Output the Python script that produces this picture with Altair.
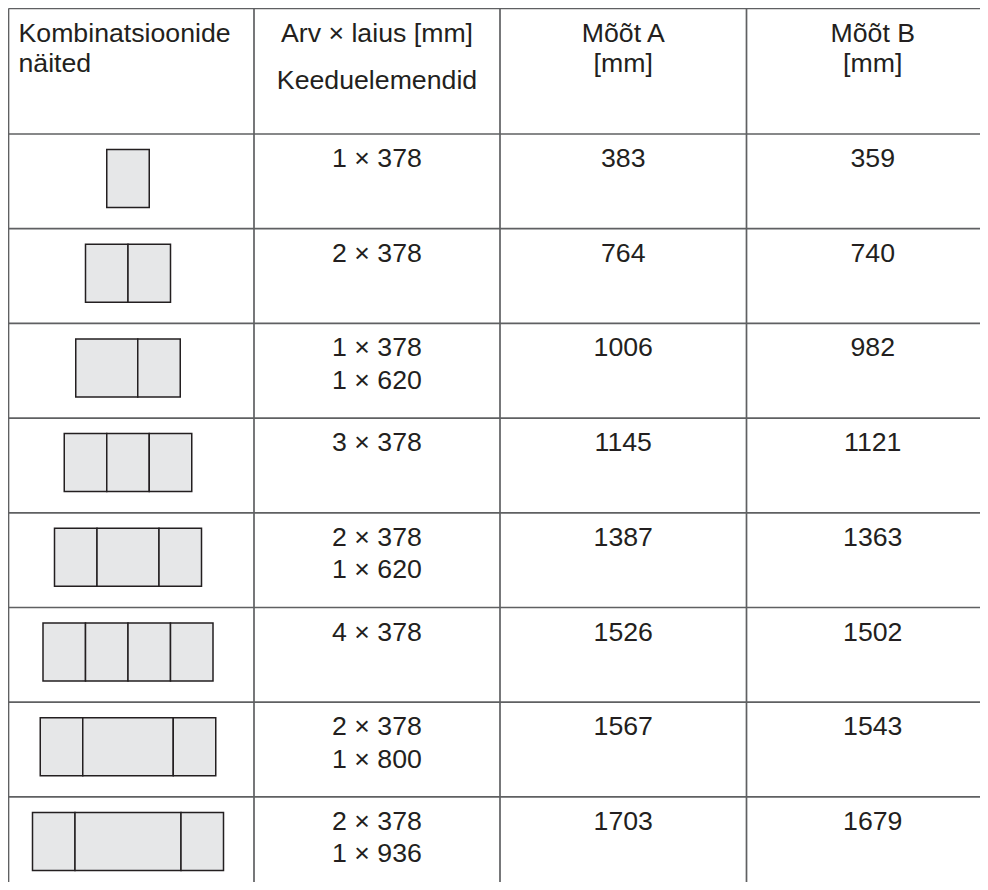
import altair as alt
import pandas as pd

# ---- table content ----
HEADERS = ["Kombinatsioonide\nnäited", "Arv × laius [mm]\nKeeduelemendid", "Mõõt A\n[mm]", "Mõõt B\n[mm]"]
ELEMENTS = ["1 × 378", "2 × 378", "1 × 378\n1 × 620", "3 × 378", "2 × 378\n1 × 620",
            "4 × 378", "2 × 378\n1 × 800", "2 × 378\n1 × 936"]
MEASURE_A = [383, 764, 1006, 1145, 1387, 1526, 1567, 1703]
MEASURE_B = [359, 740, 982, 1121, 1363, 1502, 1543, 1679]
LAYOUTS = [[378], [378, 378], [620, 378], [378, 378, 378], [378, 620, 378],
           [378, 378, 378, 378], [378, 800, 378], [378, 936, 378]]

# ---- layout / style ----
W, H = 972, 874
ROW_PX = 94.7
HEADER_U = 125.5 / ROW_PX
Y_MAX = H / ROW_PX
COL_RANGE = [0.5, 246, 492, 738.5, 991]
ICON_PX = {378: 42.5, 620: 62, 800: 90.5, 936: 106}   # drawn width of each element
ICON_CENTER_PX = 120
ICON_TOP_PX, ICON_H_PX = 15.5, 58
FONT = "Liberation Sans"
TXT = "#231f20"
LINE = "#5f6062"
FILL = "#e6e7e8"
FS = 26.7

def col0_u(px):
    return (px - COL_RANGE[0]) / (COL_RANGE[1] - COL_RANGE[0])

xs = alt.Scale(domain=[0, 1, 2, 3, 4], range=COL_RANGE, nice=False, zero=False)
ys = alt.Scale(domain=[0, Y_MAX], range=[0.5, H + 0.5], nice=False, zero=False)

# grid lines
hlines = pd.DataFrame({"y": [0] + [HEADER_U + i for i in range(9)], "x": 0, "x2": 4})
vlines = pd.DataFrame({"x": [0, 1, 2, 3, 4], "y": 0, "y2": Y_MAX + 0.2})

h_layer = alt.Chart(hlines).mark_rule(color=LINE, strokeWidth=1.7).encode(
    x=alt.X("x:Q", scale=xs, axis=None), x2="x2:Q", y=alt.Y("y:Q", scale=ys, axis=None))
v_layer = alt.Chart(vlines).mark_rule(color=LINE, strokeWidth=1.7).encode(
    x=alt.X("x:Q", scale=xs, axis=None), y=alt.Y("y:Q", scale=ys, axis=None), y2="y2:Q")

# icons
recs = []
for i, lay in enumerate(LAYOUTS):
    widths = [ICON_PX[w] for w in lay]
    start = ICON_CENTER_PX - sum(widths) / 2
    top = HEADER_U + i + ICON_TOP_PX / ROW_PX
    for w in widths:
        recs.append({"x": col0_u(start), "x2": col0_u(start + w),
                     "y": top, "y2": top + ICON_H_PX / ROW_PX})
        start += w
icons = alt.Chart(pd.DataFrame(recs)).mark_rect(
    fill=FILL, stroke=TXT, strokeWidth=1.5).encode(
    x=alt.X("x:Q", scale=xs, axis=None), x2="x2:Q",
    y=alt.Y("y:Q", scale=ys, axis=None), y2="y2:Q")

def text_layer(df, align, lh, dx=0, dy=33.5):
    return alt.Chart(df).mark_text(
        align=align, baseline="alphabetic", font=FONT, fontSize=FS, color=TXT,
        lineBreak="\n", lineHeight=lh, dx=dx, dy=dy).encode(
        x=alt.X("x:Q", scale=xs, axis=None), y=alt.Y("y:Q", scale=ys, axis=None),
        text="t:N")

hdr1 = text_layer(pd.DataFrame({"x": [0], "y": [0], "t": [HEADERS[0]]}), "left", 30.5, dx=10, dy=33)
hdr2 = text_layer(pd.DataFrame({"x": [1.5], "y": [0], "t": [HEADERS[1]]}), "center", 47, dy=33)
hdr34 = text_layer(pd.DataFrame({"x": [2.5, 3.5], "y": [0, 0], "t": HEADERS[2:]}), "center", 30.5, dy=33)

body = []
for i in range(len(ELEMENTS)):
    y = HEADER_U + i
    body.append({"x": 1.5, "y": y, "t": ELEMENTS[i]})
    body.append({"x": 2.5, "y": y, "t": str(MEASURE_A[i])})
    body.append({"x": 3.5, "y": y, "t": str(MEASURE_B[i])})
body_layer = text_layer(pd.DataFrame(body), "center", 32.5, dy=33)

chart = alt.layer(icons, h_layer, v_layer, hdr1, hdr2, hdr34, body_layer).properties(
    width=W, height=H, padding=0, autosize=alt.AutoSizeParams(type="none"),
    background="white"
).configure_view(stroke=None)

chart.save("out.html", embed_options={"renderer": "svg", "actions": False})
